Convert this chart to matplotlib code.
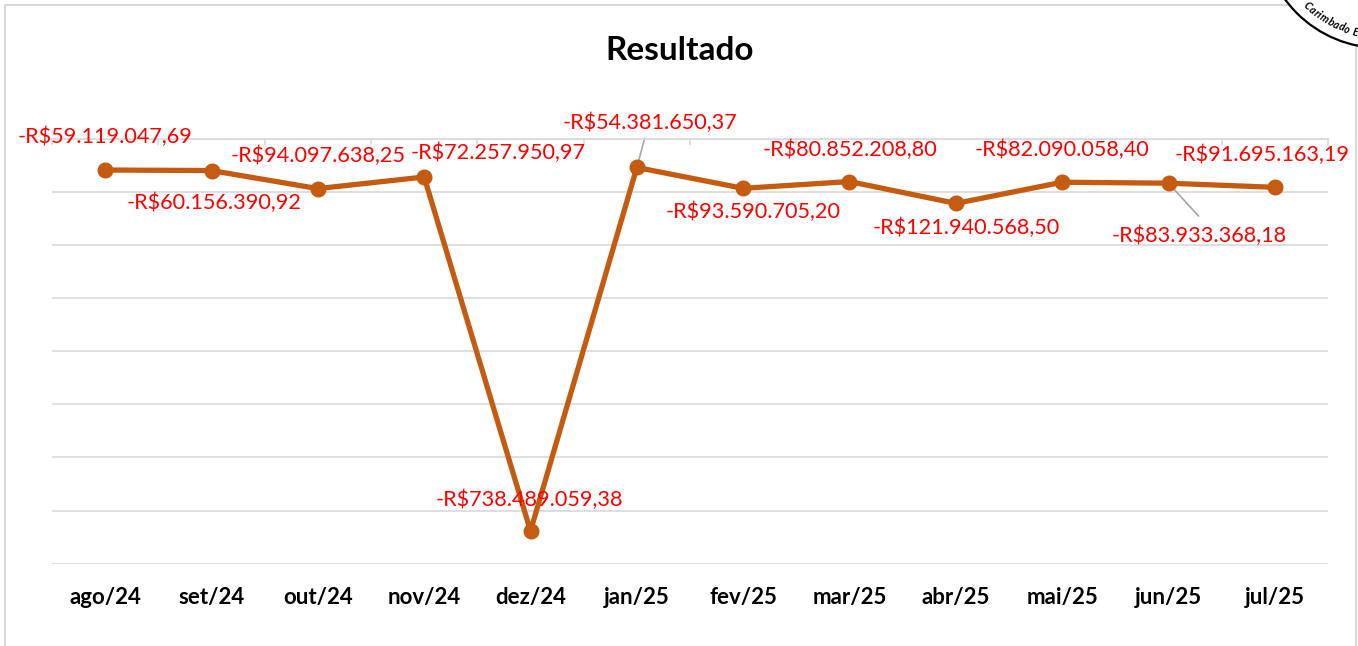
import numpy as np
import matplotlib
matplotlib.use('Agg')
import matplotlib.pyplot as plt
from matplotlib.patches import Rectangle, Circle
from matplotlib.transforms import IdentityTransform

plt.rcParams['font.family'] = ['Lato', 'DejaVu Sans']

meses = ['ago/24', 'set/24', 'out/24', 'nov/24', 'dez/24', 'jan/25',
         'fev/25', 'mar/25', 'abr/25', 'mai/25', 'jun/25', 'jul/25']
resultado = [-59119047.69, -60156390.92, -94097638.25, -72257950.97, -738489059.38, -54381650.37,
             -93590705.20, -80852208.80, -121940568.50, -82090058.40, -83933368.18, -91695163.19]
# deslocamento dos rotulos em pixels (dx, dy)
rotulo_pos = [(0, 33), (3, -32), (0, 33), (74, 24), (-1, 31), (13, 45),
              (10, -24), (1, 32), (10, -24), (0, 32), (31, -53), (-13, 32)]
com_guia = [5, 10]


def moeda(v):
    s = '{:,.2f}'.format(abs(v))
    s = s.replace(',', '#').replace('.', ',').replace('#', '.')
    return ('-' if v < 0 else '') + 'R$' + s


W, H = 1358, 646
fig = plt.figure(figsize=(W / 100, H / 100), dpi=100)
ax = fig.add_axes([52 / W, 1 - 563.7 / H, (1328 - 52) / W, (563.7 - 138.6) / H])

x = np.arange(len(meses))
y = np.array(resultado) / 1e6
ax.plot(x, y, color='#C55A11', lw=3.8, marker='o', markersize=10.5, zorder=3, solid_joinstyle='round')

ax.set_xlim(-0.5, len(meses) - 0.5)
ax.set_ylim(-800, 0)
ax.set_yticks(np.arange(-800, 1, 100))
ax.yaxis.grid(True, color='#d9d9d9', lw=1.2)
ax.set_axisbelow(True)
ax.tick_params(axis='y', left=False, labelleft=False)
for s in ['left', 'right', 'bottom']:
    ax.spines[s].set_visible(False)
ax.spines['top'].set_color('#d9d9d9')
ax.spines['top'].set_linewidth(1.2)

# eixo de categorias cruza no zero (topo), rotulos embaixo
ax.set_xticks(x)
ax.set_xticklabels(meses, fontsize=16, fontweight='bold', color='#000000')
ax.tick_params(axis='x', bottom=False, top=False, pad=13)
for b in np.arange(-0.5, len(meses), 1.0):
    ax.plot([b, b], [0, -11], color='#d9d9d9', lw=1.2, zorder=1, clip_on=False)

for i, v in enumerate(y):
    dx, dy = rotulo_pos[i]
    if i in com_guia:
        fim = (dx * 0.6, dy * 0.65) if dy > 0 else (dx * 0.97, dy * 0.62)
        ax.annotate('', xy=(i, v), xytext=fim, textcoords='offset pixels',
                    arrowprops=dict(arrowstyle='-', color='#a6a6a6', lw=1.2, shrinkA=0, shrinkB=0),
                    zorder=2)
    ax.annotate(moeda(resultado[i]), xy=(i, v), xytext=(dx, dy), textcoords='offset pixels',
                ha='center', va='center', fontsize=15.6, color='#ff0000', zorder=5)

fig.text(680 / W, 1 - 50 / H, 'Resultado', ha='center', va='center',
         fontsize=24, fontweight='bold', color='#000000')

# moldura do grafico
fig.patches.append(Rectangle((4.5 / W, -0.02), (1356 - 4.5) / W, 1.02 - 4.5 / H,
                             transform=fig.transFigure, fill=False, ec='#d9d9d9', lw=1.5))

# carimbo no canto superior direito (coordenadas em pixels, y para baixo)
cx, cy, r = 1381, -71, 119
fig.patches.append(Circle((cx, H - cy), r, transform=IdentityTransform(),
                          fc='white', ec='black', lw=1.6, zorder=10))
renderer = fig.canvas.get_renderer()
raio_txt = 106
tam = 7.6
theta = np.deg2rad(135.5)
for ch in 'Carimbado E':
    if ch == ' ':
        theta -= 3.0 / raio_txt
        continue
    t = fig.text(0, 0, ch, fontsize=tam, fontweight='bold', style='italic')
    larg = t.get_window_extent(renderer).width
    t.remove()
    meio = theta - (larg / 2) / raio_txt
    px = cx + raio_txt * np.cos(meio)
    py = cy + raio_txt * np.sin(meio)
    fig.text(px / W, 1 - py / H, ch, ha='center', va='center', fontsize=tam,
             fontweight='bold', style='italic', rotation=90 - np.rad2deg(meio), zorder=11)
    theta -= (larg + 0.4) / raio_txt

fig.savefig('out.png', dpi=100)
